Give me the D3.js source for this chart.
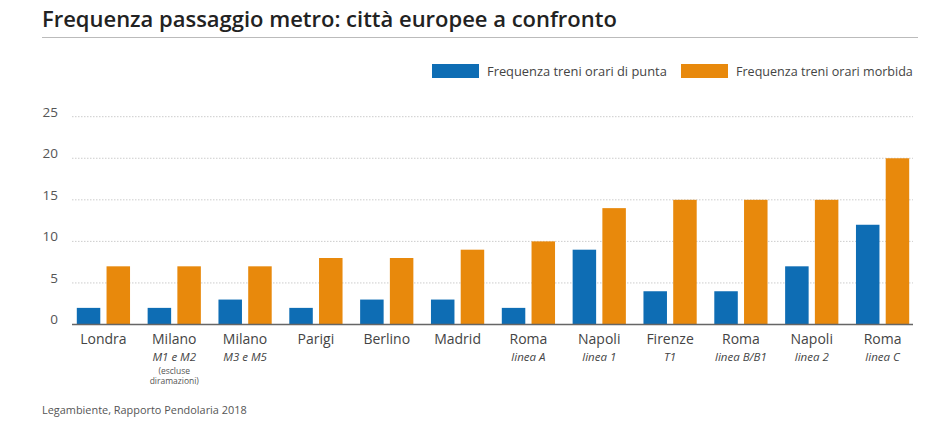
<!DOCTYPE html>
<html>
<head>
<meta charset="utf-8">
<script src="https://cdn.jsdelivr.net/npm/d3@7"></script>
<style>
  body { margin: 0; background: #fff; }
  svg { display: block; font-family: "Open Sans", "Noto Sans", sans-serif; }
</style>
</head>
<body>
<svg id="chart" width="944" height="435"></svg>
<script>
const categories = ["Londra", "Milano", "Milano", "Parigi", "Berlino", "Madrid", "Roma", "Napoli", "Firenze", "Roma", "Napoli", "Roma"];
const subLabels = ["", "M1 e M2", "M3 e M5", "", "", "", "linea A", "linea 1", "T1", "linea B/B1", "linea 2", "linea C"];
const noteLabels = ["", "(escluse|diramazioni)", "", "", "", "", "", "", "", "", "", ""];
const seriesNames = ["Frequenza treni orari di punta", "Frequenza treni orari morbida"];
const punta = [2, 2, 3, 2, 3, 3, 2, 9, 4, 4, 7, 12];
const morbida = [7, 7, 7, 8, 8, 9, 10, 14, 15, 15, 15, 20];
const yTicks = [0, 5, 10, 15, 20, 25];
const colors = ["#0e6db4", "#e8890c"];

const svg = d3.select("#chart");
const keys = categories.map((c, i) => i);

const x = d3.scaleBand().domain(keys).range([68, 918]).padding(0);
const xi = d3.scaleBand().domain([0, 1]).range([8.8, x.bandwidth() - 8.8]).paddingInner(0.21);
const y = d3.scaleLinear().domain([0, 25]).range([324.5, 116.7]);

function fit(sel, size, target) {
  sel.attr("font-size", size);
  const w = sel.node().getComputedTextLength();
  sel.attr("font-size", size * target / w);
  return sel;
}

// Title
const title = svg.append("text")
  .attr("x", 42).attr("y", 27)
  .attr("font-weight", 600).attr("fill", "#222")
  .text("Frequenza passaggio metro: città europee a confronto");
fit(title, 20, 575);

svg.append("line").attr("x1", 42).attr("x2", 918).attr("y1", 37.5).attr("y2", 37.5)
  .attr("stroke", "#bbb").attr("stroke-width", 1.2);

// Legend
const legendX = [432, 681];
const legendW = [180, 177];
seriesNames.forEach((s, i) => {
  svg.append("rect").attr("x", legendX[i]).attr("y", 64).attr("width", 47).attr("height", 14).attr("fill", colors[i]);
  const t = svg.append("text").attr("x", legendX[i] + 55).attr("y", 75.5)
    .attr("fill", "#444").text(s);
  fit(t, 12, legendW[i]);
});

// Grid
const grid = svg.append("g");
yTicks.filter(t => t > 0).forEach(t => {
  grid.append("line").attr("x1", 72).attr("x2", 913).attr("y1", y(t)).attr("y2", y(t))
    .attr("stroke", "#ccc").attr("stroke-width", 1).attr("stroke-dasharray", "1.5,1.5");
});

// Y tick labels
const yAxis = d3.axisLeft(y).tickValues(yTicks).tickSize(0).tickPadding(0);
const ya = svg.append("g").attr("transform", "translate(58,-5)").call(yAxis);
ya.select(".domain").remove();
ya.selectAll("text").attr("font-size", 13.5).attr("fill", "#555").attr("font-family", "'Open Sans', sans-serif");

// Bars
const groups = svg.append("g").selectAll("g").data(keys).join("g")
  .attr("transform", d => `translate(${x(d)},0)`);
groups.selectAll("rect").data(d => [punta[d], morbida[d]]).join("rect")
  .attr("x", (v, j) => xi(j)).attr("width", xi.bandwidth())
  .attr("y", v => y(v)).attr("height", v => y(0) - y(v))
  .attr("fill", (v, j) => colors[j]);

// Baseline
svg.append("line").attr("x1", 72).attr("x2", 913).attr("y1", y(0)).attr("y2", y(0))
  .attr("stroke", "#666").attr("stroke-width", 1.6);

// X labels
const xl = svg.append("g");
keys.forEach(i => {
  const cx = x(i) + x.bandwidth() / 2;
  xl.append("text").attr("x", cx).attr("y", 344).attr("text-anchor", "middle")
    .attr("font-size", 14).attr("fill", "#444").text(categories[i]);
  if (subLabels[i]) {
    xl.append("text").attr("x", cx).attr("y", 361).attr("text-anchor", "middle")
      .attr("font-size", 11.5).attr("font-style", "italic").attr("fill", "#444").text(subLabels[i]);
  }
  if (noteLabels[i]) {
    noteLabels[i].split("|").forEach((n, k) => {
      xl.append("text").attr("x", cx).attr("y", 373.5 + k * 10).attr("text-anchor", "middle")
        .attr("font-size", 8.5).attr("fill", "#555").text(n);
    });
  }
});

// Source
const src = svg.append("text").attr("x", 42).attr("y", 414).attr("fill", "#555")
  .text("Legambiente, Rapporto Pendolaria 2018");
fit(src, 10, 205);
</script>
</body>
</html>
